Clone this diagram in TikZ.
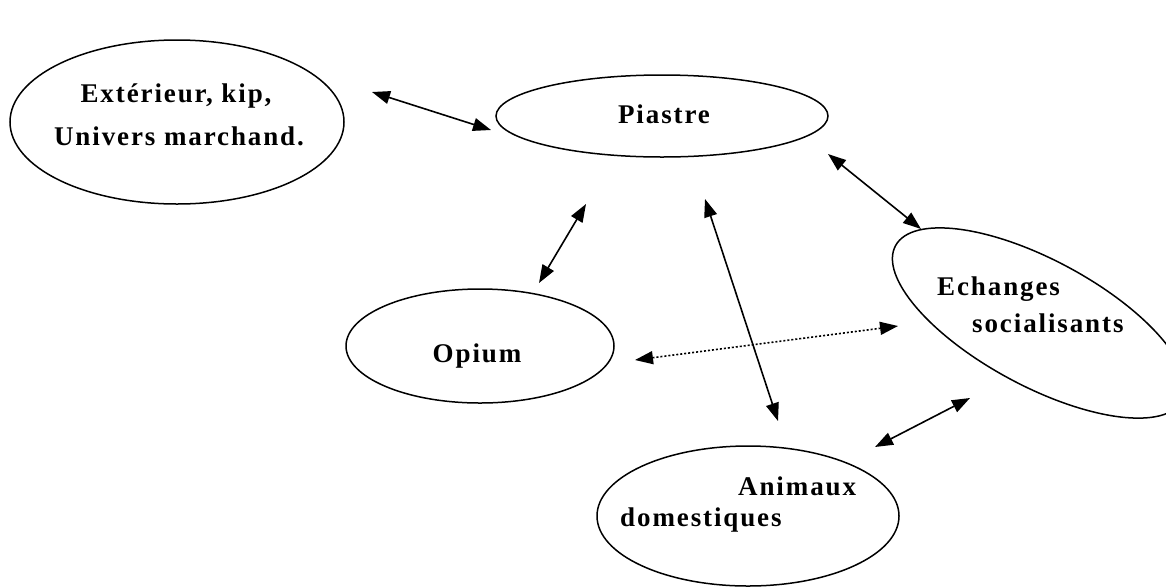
\documentclass[tikz,border=0pt]{standalone}
\usepackage{fontspec}
\setmainfont[LetterSpace=7]{Liberation Serif}
\usetikzlibrary{arrows.meta}
\tikzset{
  bub/.style={draw, line width=1.5pt},
  lbl/.style={font=\fontsize{27}{31}\selectfont\bfseries, inner sep=0pt},
  tip/.tip={Triangle[length=18pt,width=13pt]},
  link/.style={line width=1.6pt, {tip}-{tip}},
  dotlink/.style={link, dash pattern=on 2pt off 2pt},
}
\begin{document}
\begin{tikzpicture}[x=1pt,y=-1pt]
\useasboundingbox (0,0) rectangle (1166,587);
\begin{scope}
\clip (0,0) rectangle (1166,587);
% ellipses
\draw[bub] (177,122) ellipse [x radius=167, y radius=82];
\draw[bub] (662,116) ellipse [x radius=166, y radius=41];
\draw[bub] (480,346) ellipse [x radius=134, y radius=57];
\draw[bub] (748,516) ellipse [x radius=151, y radius=70];
\draw[bub, rotate around={-28.3:(1039,323)}] (1039,323) ellipse [x radius=163, y radius=63];
\end{scope}
% labels
\node[lbl] (ext1) at (176,96) {Extérieur, kip,};
\node[lbl] (ext2) at (179,136) {Univers marchand.};
\node[lbl] (pia) at (664,114) {Piastre};
\node[lbl] (opi) at (477,356) {Opium};
\node[lbl, anchor=west] (ech1) at (937,289) {Echanges};
\node[lbl, anchor=west] (ech2) at (972,323) {socialisants};
\node[lbl, anchor=west] (ani1) at (738,486) {Animaux};
\node[lbl, anchor=west] (ani2) at (620,520) {domestiques};
% connector end points
\coordinate (p1) at (372,92);
\coordinate (q1) at (491,130);
\coordinate (p2) at (828,154);
\coordinate (q2) at (921,229);
\coordinate (p3) at (586,204);
\coordinate (q3) at (539,283);
\coordinate (p4) at (705,199);
\coordinate (q4) at (778,421);
\coordinate (p5) at (635,360);
\coordinate (q5) at (898,326);
\coordinate (p6) at (875,447);
\coordinate (q6) at (970,398);
\draw[link] (p1) -- (q1);
\draw[link] (p2) -- (q2);
\draw[link] (p3) -- (q3);
\draw[link] (p4) -- (q4);
\draw[dotlink] (p5) -- (q5);
\draw[link] (p6) -- (q6);
\end{tikzpicture}
\end{document}
